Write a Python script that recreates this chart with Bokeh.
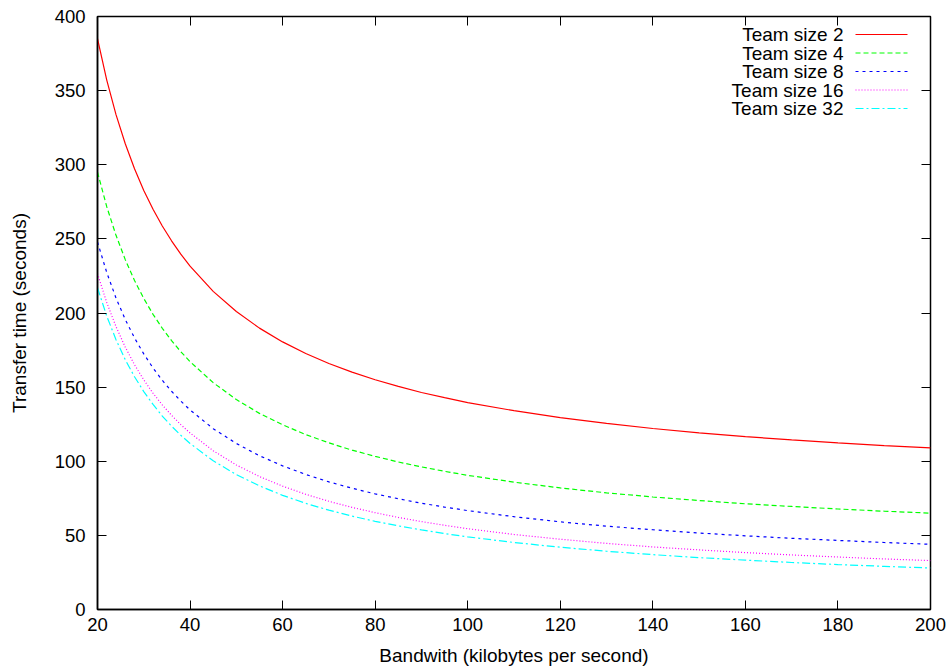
from bokeh.plotting import figure
from bokeh.models import LinearAxis, Range1d, FixedTicker, Label, Arrow
from bokeh.embed import file_html
from bokeh.resources import INLINE

bandwidth = [20, 22, 24, 26, 28, 30, 32, 34, 36, 38, 40, 45, 50, 55, 60, 65, 70, 75, 80, 85,
             90, 95, 100, 110, 120, 130, 140, 150, 160, 170, 180, 190, 200]
team2 = [385, 357.1, 333.8, 314.2, 297.3, 282.7, 270, 258.7, 248.7, 239.7, 231.6, 214.6, 201,
         189.8, 180.5, 172.7, 165.9, 160.1, 155, 150.5, 146.4, 142.9, 139.6, 134.1, 129.4,
         125.5, 122.1, 119.2, 116.6, 114.4, 112.4, 110.6, 109]
team4 = [295, 271.7, 252.4, 236, 221.9, 209.8, 199.1, 189.7, 181.4, 173.9, 167.2, 153, 141.6,
         132.3, 124.6, 118, 112.4, 107.5, 103.3, 99.5, 96.2, 93.2, 90.5, 85.9, 82, 78.7, 75.9,
         73.5, 71.3, 69.5, 67.8, 66.3, 65]
team8 = [247.9, 227.3, 210.1, 195.6, 183.2, 172.4, 162.9, 154.6, 147.2, 140.6, 134.6, 122, 112,
         103.7, 96.9, 91.1, 86.1, 81.8, 78, 74.7, 71.7, 69.1, 66.7, 62.6, 59.1, 56.2, 53.8,
         51.6, 49.7, 48, 46.6, 45.2, 44]
team16 = [226.6, 207, 190.8, 177, 165.1, 154.9, 145.9, 138, 131, 124.7, 119.1, 107.1, 97.5,
          89.7, 83.2, 77.7, 73, 68.9, 65.3, 62.1, 59.3, 56.8, 54.5, 50.6, 47.4, 44.6, 42.2,
          40.2, 38.4, 36.8, 35.4, 34.1, 33]
team32 = [217, 197.9, 182, 168.5, 157, 147, 138.3, 130.5, 123.7, 117.5, 112, 100.3, 91, 83.4,
          77, 71.6, 67, 63, 59.5, 56.4, 53.7, 51.2, 49, 45.2, 42, 39.3, 37, 35, 33.3, 31.7,
          30.3, 29.1, 28]

labels = ["Team size 2", "Team size 4", "Team size 8", "Team size 16", "Team size 32"]
series = [team2, team4, team8, team16, team32]
colors = ["#ff0000", "#00ff00", "#0000ff", "#ff00ff", "#00ffff"]
dashes = ["solid", "5 3", "3 4", "1 2", "8 3 2 3"]

x_ticks = [20, 40, 60, 80, 100, 120, 140, 160, 180, 200]
y_ticks = [0, 50, 100, 150, 200, 250, 300, 350, 400]

FONT = "Liberation Sans"

p = figure(width=952, height=671, output_backend="svg", toolbar_location=None,
           x_range=Range1d(20, 200), y_range=Range1d(0, 400),
           min_border_left=97, min_border_right=22, min_border_top=16, min_border_bottom=62,
           x_axis_label="Bandwith (kilobytes per second)",
           y_axis_label="Transfer time (seconds)")
p.xgrid.visible = False
p.ygrid.visible = False
p.outline_line_color = "black"
p.outline_line_width = 1.5
p.background_fill_color = "white"
p.border_fill_color = "white"

for ax in (p.xaxis[0], p.yaxis[0]):
    ax.major_tick_in = 9
    ax.major_tick_out = 0
    ax.minor_tick_line_color = None
    ax.axis_line_color = "black"
    ax.axis_line_width = 1.5
    ax.major_tick_line_color = "black"
    ax.major_label_text_font = FONT
    ax.major_label_text_font_size = "18.5px"
    ax.major_label_text_color = "black"
    ax.axis_label_text_font = FONT
    ax.axis_label_text_font_size = "19px"
    ax.axis_label_text_font_style = "normal"
    ax.axis_label_text_color = "black"

p.xaxis[0].ticker = FixedTicker(ticks=x_ticks)
p.yaxis[0].ticker = FixedTicker(ticks=y_ticks)
p.xaxis[0].major_label_standoff = 8
p.xaxis[0].axis_label_standoff = 11
p.yaxis[0].major_label_standoff = 12
p.yaxis[0].axis_label_standoff = 22

top = LinearAxis(ticker=FixedTicker(ticks=x_ticks),
                 major_label_overrides={t: "" for t in x_ticks},
                 major_tick_in=9, major_tick_out=0, minor_tick_line_color=None,
                 axis_line_color=None, major_tick_line_color="black")
right = LinearAxis(ticker=FixedTicker(ticks=y_ticks),
                   major_label_overrides={t: "" for t in y_ticks},
                   major_tick_in=9, major_tick_out=0, minor_tick_line_color=None,
                   axis_line_color=None, major_tick_line_color="black")
p.add_layout(top, "above")
p.add_layout(right, "right")

for lab, ys, c, d in zip(labels, series, colors, dashes):
    p.line(bandwidth, ys, line_color=c, line_width=1.2, line_dash=d)

# gnuplot-style key (screen units, measured from the frame's bottom-left corner):
# right-aligned text with the line sample to its right
row_y = [575, 556.5, 538, 519.5, 501]
for lab, c, d, yy in zip(labels, colors, dashes, row_y):
    p.add_layout(Label(x=746, y=yy, x_units="screen", y_units="screen", text=lab,
                       text_align="right", text_baseline="middle",
                       text_font=FONT, text_font_size="19px", text_color="black"))
    p.add_layout(Arrow(x_start=758, y_start=yy, x_end=810, y_end=yy,
                       start_units="screen", end_units="screen", end=None, start=None,
                       line_color=c, line_width=1.2, line_dash=d))

open("out.html", "w").write(file_html(p, INLINE))
